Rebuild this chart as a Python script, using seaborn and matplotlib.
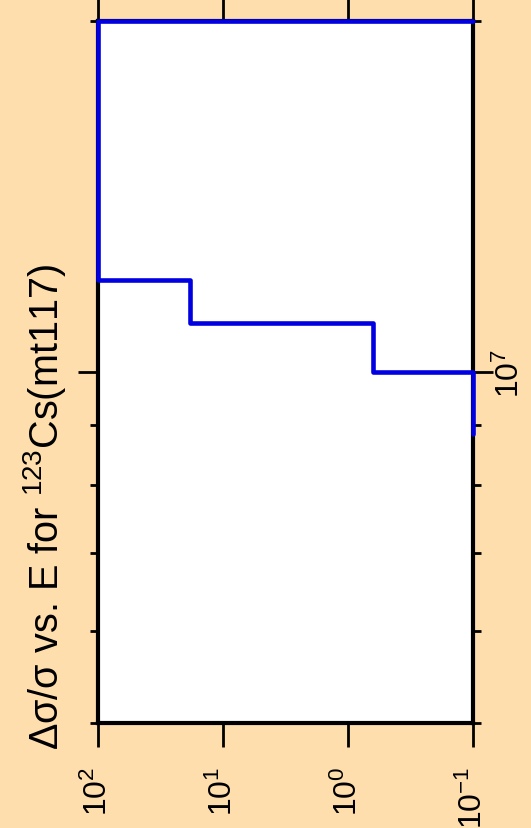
import numpy as np
import pandas as pd
import matplotlib
matplotlib.use("Agg")
import matplotlib.pyplot as plt
import seaborn as sns
from matplotlib.ticker import LogLocator, NullLocator, NullFormatter

# Step data: energy bin edges (eV) and relative uncertainty per bin
energyEdges = [8.85e6, 1.0e7, 1.102e7, 1.2e7, 2.0e7]
binValues = [0.1, 0.63, 18.4, 100.0]
afterLast = 0.1

valueTicks = [100, 10, 1, 0.1]
energyLimits = (5e6, 2e7)
valueLimits = (100, 0.1)

# Build step path (corner points) from the edges and bin values
stepE = [energyEdges[0]]
stepV = [binValues[0]]
for i, v in enumerate(binValues):
    stepE += [energyEdges[i + 1], energyEdges[i + 1]]
    nxt = binValues[i + 1] if i + 1 < len(binValues) else afterLast
    stepV += [v, nxt]
df = pd.DataFrame({"E": stepE, "rel": stepV})

sns.set_style("ticks")
plt.rcParams["font.family"] = ["Liberation Sans", "DejaVu Sans"]
plt.rcParams["text.color"] = "black"
plt.rcParams["xtick.color"] = "black"
plt.rcParams["ytick.color"] = "black"
plt.rcParams["xtick.labelsize"] = 23
plt.rcParams["ytick.labelsize"] = 23
plt.rcParams["axes.unicode_minus"] = False

bg = "#FFDEAD"
fig = plt.figure(figsize=(5.31, 8.29), dpi=100, facecolor=bg)
ax = fig.add_axes([98 / 531, 1 - 724 / 829, 375 / 531, 702 / 829])
ax.set_facecolor("white")

# plot is shown rotated: relative uncertainty runs horizontally, energy upward
sns.lineplot(data=df, x="rel", y="E", sort=False, estimator=None,
             color="#0000E0", linewidth=3.3, ax=ax, zorder=3, clip_on=False)

ax.set_xscale("log")
ax.set_yscale("log")
ax.set_xlim(*valueLimits)
ax.set_ylim(*energyLimits)
ax.set_xlabel("")
ax.set_ylabel("")

ax.set_xticks(valueTicks)
ax.xaxis.set_minor_locator(NullLocator())
ax.yaxis.set_major_locator(LogLocator(base=10))
ax.yaxis.set_minor_locator(LogLocator(base=10, subs=np.arange(2, 10)))
ax.yaxis.set_minor_formatter(NullFormatter())

for s in ax.spines.values():
    s.set_linewidth(3.0)
    s.set_color("black")

ax.tick_params(axis="x", which="major", direction="out", length=17.5, width=2,
               top=True, bottom=True, labeltop=False, labelbottom=True,
               labelsize=23, labelrotation=90, pad=13, labelcolor="black")
ax.tick_params(axis="y", which="major", direction="out", length=14.4, width=2,
               left=True, right=True, labelleft=False, labelright=True,
               labelsize=23, labelrotation=90, pad=1, labelcolor="black")
ax.tick_params(axis="y", which="minor", direction="out", length=6, width=2,
               left=True, right=True)
for lab in ax.get_yticklabels():
    lab.set_va("center")

fig.text(45 / 531, 1 - 750 / 829, "Δσ/σ vs. E for ${}^{\\mathregular{123}}$Cs(mt117)",
         rotation=90, ha="center", va="bottom", fontsize=28.5, color="black")

fig.savefig("out.png", dpi=100, facecolor=bg)
